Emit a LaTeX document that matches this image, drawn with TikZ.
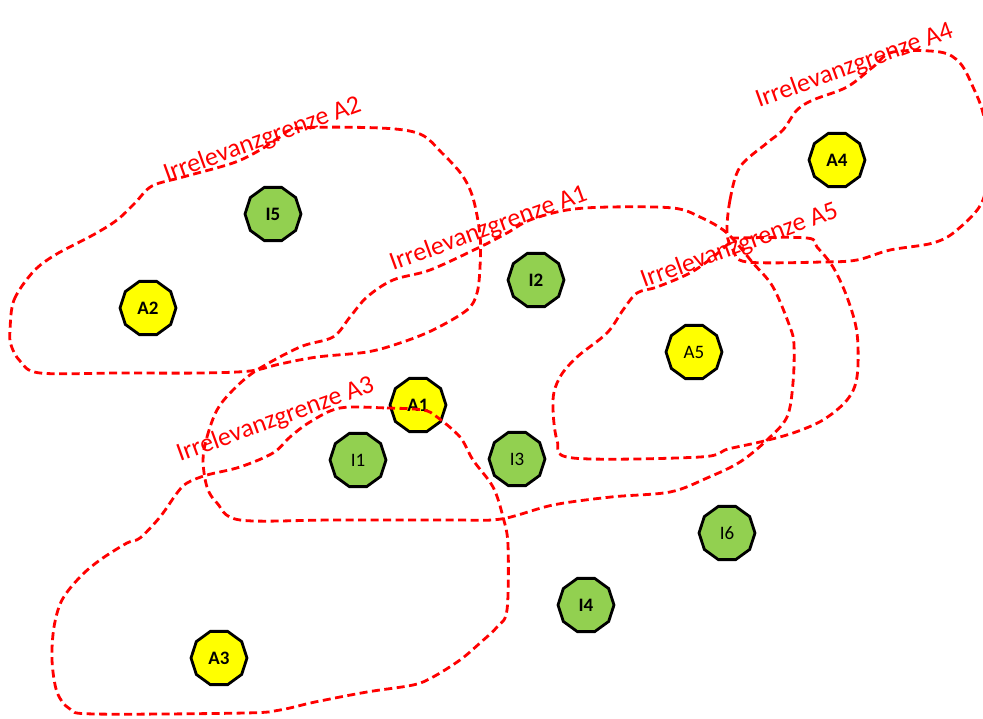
\documentclass[tikz,border=0pt]{standalone}
\usepackage{fontspec}
\setmainfont{Carlito}
\usetikzlibrary{shapes.geometric}
\definecolor{ggreen}{HTML}{92D050}
\definecolor{byellow}{HTML}{FFFF00}
\definecolor{bred}{HTML}{FF0000}
\tikzset{
 bound/.style={draw=bred, line width=2.8pt, dash pattern=on 8pt off 4.5pt},
 dec/.style={regular polygon, regular polygon sides=10, minimum size=56pt, inner sep=0pt, draw=black, line width=2.8pt, font=\fontsize{19}{21}\selectfont},
 anode/.style={dec, fill=byellow},
 inode/.style={dec, fill=ggreen},
 blab/.style={text=bred, font=\fontsize{26}{30}\selectfont, anchor=base west, rotate=20, inner sep=0pt},
}
\begin{document}
\begin{tikzpicture}[x=1pt,y=-1pt]
\path[use as bounding box] (0,0) rectangle (983,718);
\clip (0,0) rectangle (983,718);
\fill[white] (0,0) rectangle (983,718);

% nodes
\node[anode] (A4) at (837,160) {\textbf{A4}};
\node[inode] (I5) at (273,214) {\textbf{I5}};
\node[anode] (A2) at (148,308) {\textbf{A2}};
\node[inode] (I2) at (536,280) {\textbf{I2}};
\node[anode] (A5) at (694,352) {A5};
\node[anode] (A1) at (418,405) {\textbf{A1}};
\node[inode] (I1) at (358,460) {I1};
\node[inode] (I3) at (517,459) {I3};
\node[inode] (I6) at (727,533) {I6};
\node[inode] (I4) at (586,605) {\textbf{I4}};
\node[anode] (A3) at (219,658) {\textbf{A3}};

% boundary A2
\draw[bound] plot[smooth cycle, tension=0.55] coordinates {
(10,330) (14,300) (33,272) (55,255) (93,235) (117,220) (135,203) (152,186)
(183,177) (233,163) (260,150) (280,137) (300,128) (380,128) (420,134) (442,153)
(462,175) (473,198) (480,235) (480,267) (477,293) (467,310) (433,330) (400,343)
(367,352) (317,357) (280,364) (250,371) (200,373) (120,373) (40,373) (20,361) (11,345)};

% boundary A1
\draw[bound] plot[smooth cycle, tension=0.55] coordinates {
(203,460) (207,437) (217,410) (233,390) (257,370) (300,347) (333,337) (350,317)
(367,297) (393,280) (430,270) (480,247) (507,233) (530,220) (567,210) (610,207)
(673,208) (700,217) (727,233) (753,263) (773,287) (790,327) (794,345) (793,383)
(787,417) (767,440) (740,462) (707,478) (670,492) (611,497) (553,505) (501,519)
(450,520) (333,520) (240,520) (217,503) (207,487)};

% boundary A3
\draw[bound] plot[smooth cycle, tension=0.55] coordinates {
(340,408) (387,408) (423,410) (437,417) (460,437) (473,460) (493,487) (503,517)
(508,545) (507,610) (497,627) (480,643) (460,660) (433,677) (413,685) (367,692)
(315,702) (280,710) (245,713) (95,714) (70,709) (57,692) (52,660) (54,627) (62,600)
(80,577) (100,560) (127,543) (140,538) (160,517) (177,493) (187,483) (207,475)
(240,467) (273,453) (290,437) (310,422)};

% boundary A4
\draw[bound] plot[smooth cycle, tension=0.55] coordinates {
(727,233) (730,200) (740,167) (767,143) (783,130) (797,110) (813,100) (847,87)
(873,67) (893,52) (940,52) (960,63) (973,87) (983,113) (988,150) (983,200)
(957,230) (933,243) (890,250) (857,260) (823,262) (747,262) (733,250)};

% boundary A5
\draw[bound] plot[smooth cycle, tension=0.55] coordinates {
(740,238) (807,238) (817,247) (833,267) (847,297) (857,333) (857,377) (847,400)
(823,420) (793,433) (760,442) (728,449) (700,457) (573,458) (557,440) (553,400)
(560,377) (577,357) (607,333) (623,310) (637,293) (657,287) (690,273) (713,257)
(733,240)};

% labels
\node[blab] (LA2) at (167,182) {Irrelevanzgrenze A2};
\node[blab] (LA1) at (393,271) {Irrelevanzgrenze A1};
\node[blab] (LA3) at (180,462) {Irrelevanzgrenze A3};
\node[blab] (LA4) at (759,108) {Irrelevanzgrenze A4};
\node[blab] (LA5) at (644,288) {Irrelevanzgrenze A5};
\end{tikzpicture}
\end{document}
